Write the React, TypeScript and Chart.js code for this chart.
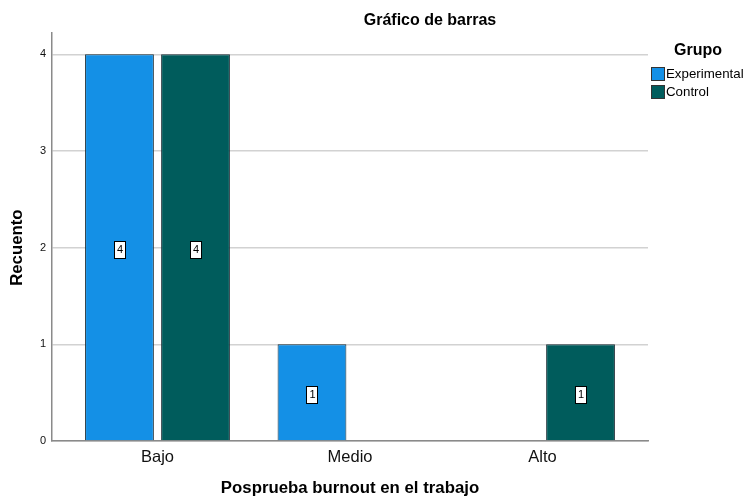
import React, { useEffect, useRef } from "react";
import { Chart, registerables } from "chart.js";

Chart.register(...registerables);

const categories = ["Bajo", "Medio", "Alto"];
const seriesNames = ["Experimental", "Control"];
const experimental = [4, 1, 0];
const control = [4, 0, 1];
const yTicks = [0, 1, 2, 3, 4];

const COLORS = ["#1490e6", "#005c5c"];
const FONT = "'Liberation Sans', Arial, sans-serif";

const dataLabelPlugin = {
  id: "dataLabels",
  afterDatasetsDraw(chart: any) {
    const ctx = chart.ctx;
    ctx.save();
    ctx.font = `11px ${FONT}`;
    ctx.textAlign = "center";
    ctx.textBaseline = "middle";
    chart.data.datasets.forEach((ds: any, di: number) => {
      const meta = chart.getDatasetMeta(di);
      meta.data.forEach((bar: any, i: number) => {
        const v = ds.data[i].y;
        if (!v) return;
        const cx = bar.x;
        const cy = (bar.y + bar.base) / 2 + 2;
        const w = 11;
        const h = 17;
        ctx.fillStyle = "#ffffff";
        ctx.fillRect(Math.round(cx - w / 2) + 0.5, Math.round(cy - h / 2) + 0.5, w, h);
        ctx.strokeStyle = "#000000";
        ctx.lineWidth = 1;
        ctx.strokeRect(Math.round(cx - w / 2) + 0.5, Math.round(cy - h / 2) + 0.5, w, h);
        ctx.fillStyle = "#000000";
        ctx.fillText(String(v), cx + 0.5, cy + 1);
      });
    });
    ctx.restore();
  },
};

const titleLegendPlugin = {
  id: "titleLegend",
  afterDraw(chart: any) {
    const ctx = chart.ctx;
    const area = chart.chartArea;
    const ys = chart.scales.y;
    ctx.save();
    ctx.fillStyle = "#000000";
    ctx.textAlign = "center";
    ctx.textBaseline = "middle";
    ctx.font = `bold 16px ${FONT}`;
    ctx.fillText("Gráfico de barras", area.right - 218, 21);
    // y axis title, centred on the tick range
    const ty = (ys.getPixelForValue(yTicks[0]) + ys.getPixelForValue(yTicks[yTicks.length - 1])) / 2;
    ctx.save();
    ctx.translate(17, ty);
    ctx.rotate(-Math.PI / 2);
    ctx.font = `bold 16.8px ${FONT}`;
    ctx.fillText("Recuento", 0, 0);
    ctx.restore();
    // legend
    const lx = area.right + 3;
    ctx.font = `bold 16px ${FONT}`;
    ctx.fillText("Grupo", lx + 47, 51);
    ctx.textAlign = "left";
    ctx.font = `13.3px ${FONT}`;
    chart.data.datasets.forEach((ds: any, i: number) => {
      const y = 67 + i * 18;
      ctx.fillStyle = ds.backgroundColor;
      ctx.fillRect(lx + 0.5, y + 0.5, 13, 13);
      ctx.strokeStyle = "#333333";
      ctx.lineWidth = 1;
      ctx.strokeRect(lx + 0.5, y + 0.5, 13, 13);
      ctx.fillStyle = "#000000";
      ctx.fillText(ds.label, lx + 15, y + 7.5);
    });
    ctx.restore();
  },
};

export default function App() {
  const ref = useRef<HTMLCanvasElement>(null);
  useEffect(() => {
    document.body.style.margin = "0";
    const series = [experimental, control];
    const chart = new Chart(ref.current!, {
      type: "bar",
      data: {
        datasets: seriesNames.map((name, si) => ({
          label: name,
          data: series[si].map((v, i) => ({ x: i, y: v })),
          backgroundColor: COLORS[si],
          borderColor: "#1d2f38",
          borderWidth: (c: any) => (c.raw && c.raw.y ? 1 : 0),
          categoryPercentage: 0.79,
          barPercentage: 0.905,
        })),
      },
      options: {
        animation: false,
        responsive: false,
        maintainAspectRatio: false,
        layout: { padding: { left: 0, right: 96, top: 33, bottom: 0 } },
        plugins: {
          legend: { display: false },
          tooltip: { enabled: false },
          title: { display: false },
        },
        scales: {
          x: {
            type: "linear",
            offset: false,
            min: -0.548,
            max: 2.548,
            afterBuildTicks: (s: any) => {
              s.ticks = categories.map((_, i) => ({ value: i }));
            },
            afterFit: (s: any) => {
              s.height = 58;
            },
            ticks: {
              callback: (v: any) => categories[v] ?? "",
              color: "#111",
              font: { family: FONT, size: 16.5 },
              padding: 7,
              maxRotation: 0,
              autoSkip: false,
            },
            grid: { display: false, drawTicks: false, offset: false },
            border: { display: true, color: "#8a8a8a", width: 1.5 },
            title: {
              display: true,
              text: "Posprueba burnout en el trabajo",
              color: "#000",
              font: { family: FONT, size: 16.8, weight: "bold" },
              padding: { top: 0, bottom: 1 },
            },
          },
          y: {
            min: 0,
            max: 4.22,
            afterBuildTicks: (s: any) => {
              s.ticks = yTicks.map((v) => ({ value: v }));
            },
            afterFit: (s: any) => {
              s.width = 52;
            },
            ticks: {
              color: "#111",
              font: { family: FONT, size: 11 },
              padding: 6,
            },
            grid: { color: "#d2d2d2", lineWidth: 1.5, drawTicks: false },
            border: { display: true, color: "#8a8a8a", width: 1.5 },
            title: { display: false },
          },
        },
      },
      plugins: [dataLabelPlugin, titleLegendPlugin],
    } as any);
    return () => chart.destroy();
  }, []);
  return (
    <div style={{ width: 744, height: 499, background: "#fff" }}>
      <canvas ref={ref} width={744} height={499} style={{ display: "block" }} />
    </div>
  );
}
